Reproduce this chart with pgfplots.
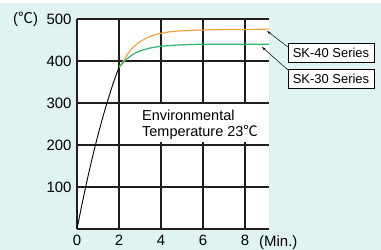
\documentclass[border=0pt]{standalone}
\usepackage{pgfplots}
\pgfplotsset{compat=1.18}
\usepackage{fontspec}
\setmainfont{Liberation Sans}
\newfontfamily\cfont{Noto Sans CJK JP}
\usetikzlibrary{arrows.meta}
\definecolor{bg}{RGB}{224,242,241}
\definecolor{orng}{RGB}{245,160,64}
\definecolor{grn}{RGB}{45,181,106}
\definecolor{gridc}{RGB}{30,30,30}
\begin{document}
\begin{tikzpicture}
\useasboundingbox (0,0) rectangle (381bp,250bp);
\fill[white] (0,0) rectangle (381bp,250bp);
\fill[bg] (0,0) rectangle (381bp,247bp);
\begin{axis}[
  at={(77bp,21bp)}, anchor=south west,
  scale only axis, width=192bp, height=210bp,
  xmin=0, xmax=9.14, ymin=0, ymax=500,
  axis lines=left, axis line style={gridc, line width=1.3pt, -},
  axis background/.style={fill=white},
  xtick={0,2,4,6,8}, ytick={100,200,300,400,500},
  major tick length=0pt,
  grid=major, major grid style={gridc, line width=1.3pt},
  /pgf/number format/assume math mode=true,
  ticklabel style={font=\fontsize{15}{15}\selectfont},
  xticklabel style={yshift=-3bp},
  yticklabel style={xshift=-2bp},
  clip=false,
]
\addplot[black, line width=0.9pt, smooth] coordinates {(0,0) (0.25,62) (0.5,120) (0.75,174) (1,224) (1.25,270) (1.5,312) (1.75,351) (2,385)};
\addplot[orng, line width=1.2pt, smooth] coordinates {(2,385) (2.25,403) (2.5,423) (2.75,436) (3,446) (3.5,459) (4,466) (4.5,470) (5,472) (6,474) (7,475) (8,475) (9.14,476)};
\addplot[grn, line width=1.2pt, smooth] coordinates {(2,385) (2.25,399) (2.5,410) (2.75,418) (3,424) (3.5,431) (4,435) (4.5,437) (5,438.5) (6,440) (7,440) (8,440) (9.14,440)};
\end{axis}
\node[anchor=west, font=\fontsize{15}{15}\selectfont, inner sep=0] at (13bp,231bp) {({\cfont ℃})};
\node[anchor=west, font=\fontsize{15}{15}\selectfont, inner sep=0] at (259bp,7bp) {(Min.)};
\fill[white] (138bp,108bp) rectangle (268bp,146bp);
\node[anchor=base west, font=\fontsize{14.5}{14.5}\selectfont, inner sep=0] at (142bp,129.3bp) {Environmental};
\node[anchor=base west, font=\fontsize{14.5}{14.5}\selectfont, inner sep=0] at (142bp,113.3bp) {Temperature 23{\cfont ℃}};
\draw[black, line width=0.8pt, fill=white] (288bp,188bp) rectangle (374bp,207bp);
\node[font=\fontsize{13}{13}\selectfont] at (331bp,197.5bp) {SK-40 Series};
\draw[black, line width=0.8pt, fill=white] (288bp,162bp) rectangle (374bp,181bp);
\node[font=\fontsize{13}{13}\selectfont] at (331bp,171.5bp) {SK-30 Series};
\draw[black, line width=0.5pt, -{Stealth[length=4bp,width=2.5bp]}] (288bp,203bp) -- (267bp,219bp);
\draw[black, line width=0.5pt, -{Stealth[length=4bp,width=2.5bp]}] (288bp,180bp) -- (262bp,203bp);
\end{tikzpicture}
\end{document}
